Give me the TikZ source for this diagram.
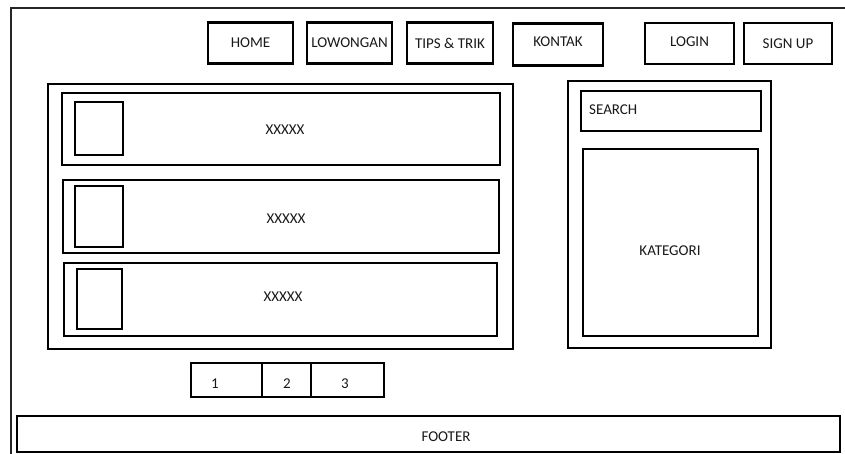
\documentclass[tikz,border=0pt]{standalone}
\usepackage{fontspec}
\setmainfont{Carlito}
\begin{document}
\begin{tikzpicture}[x=1pt,y=-1pt,
  box/.style={draw=black, line width=2.8pt, rectangle, inner sep=0pt, outer sep=0pt},
  frame/.style={draw=black!85, line width=2.2pt},
  lbl/.style={inner sep=0pt, font=\fontsize{15}{17}\selectfont, text=black!90},
  nav/.style={box, minimum height=41pt, font=\fontsize{15}{17}\selectfont, text=black!90}]
\useasboundingbox (0,0) rectangle (845,454);
\fill[white] (0,0) rectangle (845,454);
% outer frame
\coordinate (fbl) at (11,470);
\coordinate (ftl) at (11,8);
\coordinate (ftr) at (860,8);
\draw[frame] (fbl) -- (ftl) -- (ftr);
% navigation
\node[nav, minimum width=85pt] (home) at (250.5,43) {HOME};
\node[nav, minimum width=85pt] (low) at (349.5,43) {LOWONGAN};
\node[nav, minimum width=86pt] (tips) at (450,43) {TIPS \& TRIK};
\node[nav, minimum width=90pt, minimum height=42pt] (kontak) at (558,44.5) {};
\node[lbl] (kontakt) at (558,42) {KONTAK};
\node[nav, minimum width=89pt] (login) at (689.5,43.5) {};
\node[lbl] (logint) at (689.5,42) {LOGIN};
\node[nav, minimum width=88pt] (signup) at (788,43.5) {SIGN UP};
% left list
\node[box, minimum width=465pt, minimum height=265pt] (list) at (280.5,216.5) {};
\node[box, minimum width=438pt, minimum height=72pt] (it1) at (281,129) {};
\node[box, minimum width=48pt, minimum height=53pt] (th1) at (99,128.5) {};
\node[lbl] (tx1) at (285,130) {XXXXX};
\node[box, minimum width=436pt, minimum height=73pt] (it2) at (281,216.5) {};
\node[box, minimum width=48pt, minimum height=61pt] (th2) at (99,216.5) {};
\node[lbl] (tx2) at (286,219) {XXXXX};
\node[box, minimum width=433pt, minimum height=73pt] (it3) at (280.5,299.5) {};
\node[box, minimum width=45pt, minimum height=60pt] (th3) at (99.5,299) {};
\node[lbl] (tx3) at (283,297) {XXXXX};
% right sidebar
\node[box, minimum width=203pt, minimum height=267pt] (side) at (669.5,214.5) {};
\node[box, minimum width=180pt, minimum height=40pt] (search) at (671,111) {};
\node[lbl, anchor=west] (searcht) at (589,110) {SEARCH};
\node[box, minimum width=175pt, minimum height=187pt] (kat) at (670.5,242.5) {};
\node[lbl] (katt) at (670,251) {KATEGORI};
% pagination
\node[box, minimum width=71pt, minimum height=34pt] (p1) at (226.5,380) {};
\node[box, minimum width=49pt, minimum height=34pt] (p2) at (286.5,380) {};
\node[box, minimum width=73pt, minimum height=34pt] (p3) at (347.5,380) {};
\node[lbl] (p1t) at (215,384) {1};
\node[lbl] (p2t) at (287,384) {2};
\node[lbl] (p3t) at (345,384) {3};
% footer
\node[box, minimum width=823pt, minimum height=36pt] (footer) at (428.5,434) {};
\node[lbl] (footert) at (446,437) {FOOTER};
\end{tikzpicture}
\end{document}
